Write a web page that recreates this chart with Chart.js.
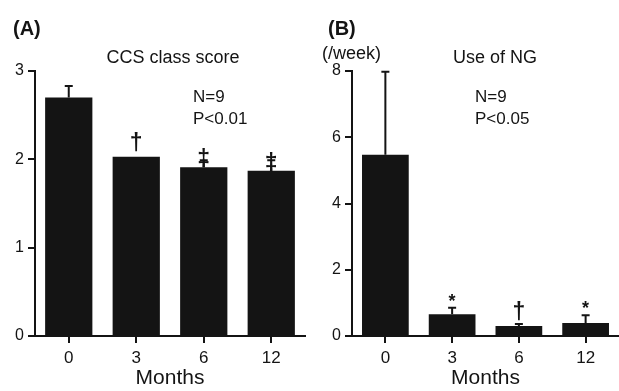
<!DOCTYPE html>
<html>
<head>
<meta charset="utf-8">
<script src="https://cdn.jsdelivr.net/npm/chart.js@4"></script>
<style>
  html, body { margin: 0; padding: 0; background: #fff; }
  .panel { position: absolute; top: 0; height: 391px; }
  #pa { left: 0; width: 310px; }
  #pb { left: 310px; width: 309px; }
</style>
</head>
<body>
<div class="panel" id="pa"><canvas id="chartA"></canvas></div>
<div class="panel" id="pb"><canvas id="chartB"></canvas></div>
<script>
// data
var months = ["0", "3", "6", "12"];

var ccsMean  = [2.70, 2.03, 1.91, 1.87];
var ccsErr   = [0.13, 0, 0.08, 0.12];
var ccsMarks = ["", "\u2020", "\u2021", "\u2021"];
var ccsTicks = [0, 1, 2, 3];

var ngMean  = [5.47, 0.66, 0.30, 0.39];
var ngErr   = [2.51, 0.19, 0.06, 0.24];
var ngMarks = ["", "*", "\u2020", "*"];
var ngTicks = [0, 2, 4, 6, 8];

var INK = "#141414";
var FONT = "'Liberation Sans', Arial, sans-serif";

// upper error bars + significance marks
var errPlugin = {
  id: "errs",
  afterDatasetsDraw: function (chart, args, o) {
    var ctx = chart.ctx, y = chart.scales.y;
    var meta = chart.getDatasetMeta(0);
    var vals = chart.data.datasets[0].data;
    ctx.save();
    ctx.strokeStyle = INK;
    ctx.fillStyle = INK;
    ctx.lineWidth = 2;
    meta.data.forEach(function (bar, i) {
      var e = o.errs[i];
      var top = y.getPixelForValue(vals[i] + e);
      if (e > 0) {
        ctx.beginPath();
        ctx.moveTo(bar.x, bar.y);
        ctx.lineTo(bar.x, top);
        ctx.moveTo(bar.x - 4, top);
        ctx.lineTo(bar.x + 4, top);
        ctx.stroke();
      }
      var m = o.marks[i];
      if (!m) return;
      ctx.textAlign = "center";
      if (m === "*") {
        ctx.font = "bold 18px " + FONT;
        ctx.textBaseline = "middle";
        ctx.fillText(m, bar.x, top - 6);
      } else {
        ctx.font = "bold 23px " + FONT;
        ctx.textBaseline = "alphabetic";
        ctx.fillText(m, bar.x, bar.y - (m === "\u2021" ? 1 : 7));
      }
    });
    ctx.restore();
  }
};

// panel letters and in-plot texts
var textPlugin = {
  id: "texts",
  afterDraw: function (chart, args, o) {
    var ctx = chart.ctx;
    ctx.save();
    ctx.fillStyle = INK;
    ctx.textBaseline = "alphabetic";
    ctx.textAlign = "left";
    ctx.font = "bold 20px " + FONT;
    ctx.fillText(o.tag, o.tagX, 35);
    if (o.unit) {
      ctx.font = "18px " + FONT;
      ctx.fillText(o.unit, o.unitX, 59);
    }
    ctx.font = "18px " + FONT;
    ctx.textAlign = "center";
    ctx.fillText(o.title, o.titleX, 63);
    ctx.textAlign = "left";
    ctx.font = "17px " + FONT;
    ctx.fillText(o.n, o.noteX, 102);
    ctx.fillText(o.p, o.noteX, 124);
    ctx.restore();
  }
};

function makeChart(id, values, errs, marks, ticks, axisW, padRight, texts) {
  return new Chart(document.getElementById(id), {
    type: "bar",
    data: {
      labels: months,
      datasets: [{
        data: values,
        backgroundColor: INK,
        borderWidth: 0,
        categoryPercentage: 1,
        barPercentage: 0.7
      }]
    },
    options: {
      responsive: true,
      maintainAspectRatio: false,
      animation: false,
      layout: { padding: { top: 71, right: padRight, left: 0, bottom: 0 } },
      plugins: {
        legend: { display: false },
        tooltip: { enabled: false },
        errs: { errs: errs, marks: marks },
        texts: texts
      },
      scales: {
        x: {
          grid: { drawOnChartArea: false, offset: false, tickLength: 7, lineWidth: 2, color: INK },
          border: { color: INK, width: 2 },
          ticks: { color: INK, font: { family: FONT, size: 17 }, padding: 5 },
          title: { display: true, text: "Months", color: INK, font: { family: FONT, size: 21 }, padding: { top: 0, bottom: 0 } },
          afterFit: function (s) { s.height = 55; }
        },
        y: {
          min: ticks[0],
          max: ticks[ticks.length - 1],
          afterBuildTicks: function (s) { s.ticks = ticks.map(function (v) { return { value: v }; }); },
          grid: { drawOnChartArea: false, tickLength: 7, lineWidth: 2, color: INK },
          border: { color: INK, width: 2 },
          ticks: { color: INK, font: { family: FONT, size: 16 }, padding: 4 },
          afterFit: function (s) { s.width = axisW; }
        }
      }
    },
    plugins: [errPlugin, textPlugin]
  });
}

makeChart("chartA", ccsMean, ccsErr, ccsMarks, ccsTicks, 35, 5, {
  tag: "(A)", tagX: 13, unit: "", unitX: 0,
  title: "CCS class score", titleX: 173,
  n: "N=9", p: "P<0.01", noteX: 193
});

makeChart("chartB", ngMean, ngErr, ngMarks, ngTicks, 42, 0, {
  tag: "(B)", tagX: 18, unit: "(/week)", unitX: 12,
  title: "Use of NG", titleX: 185,
  n: "N=9", p: "P<0.05", noteX: 165
});
</script>
</body>
</html>
